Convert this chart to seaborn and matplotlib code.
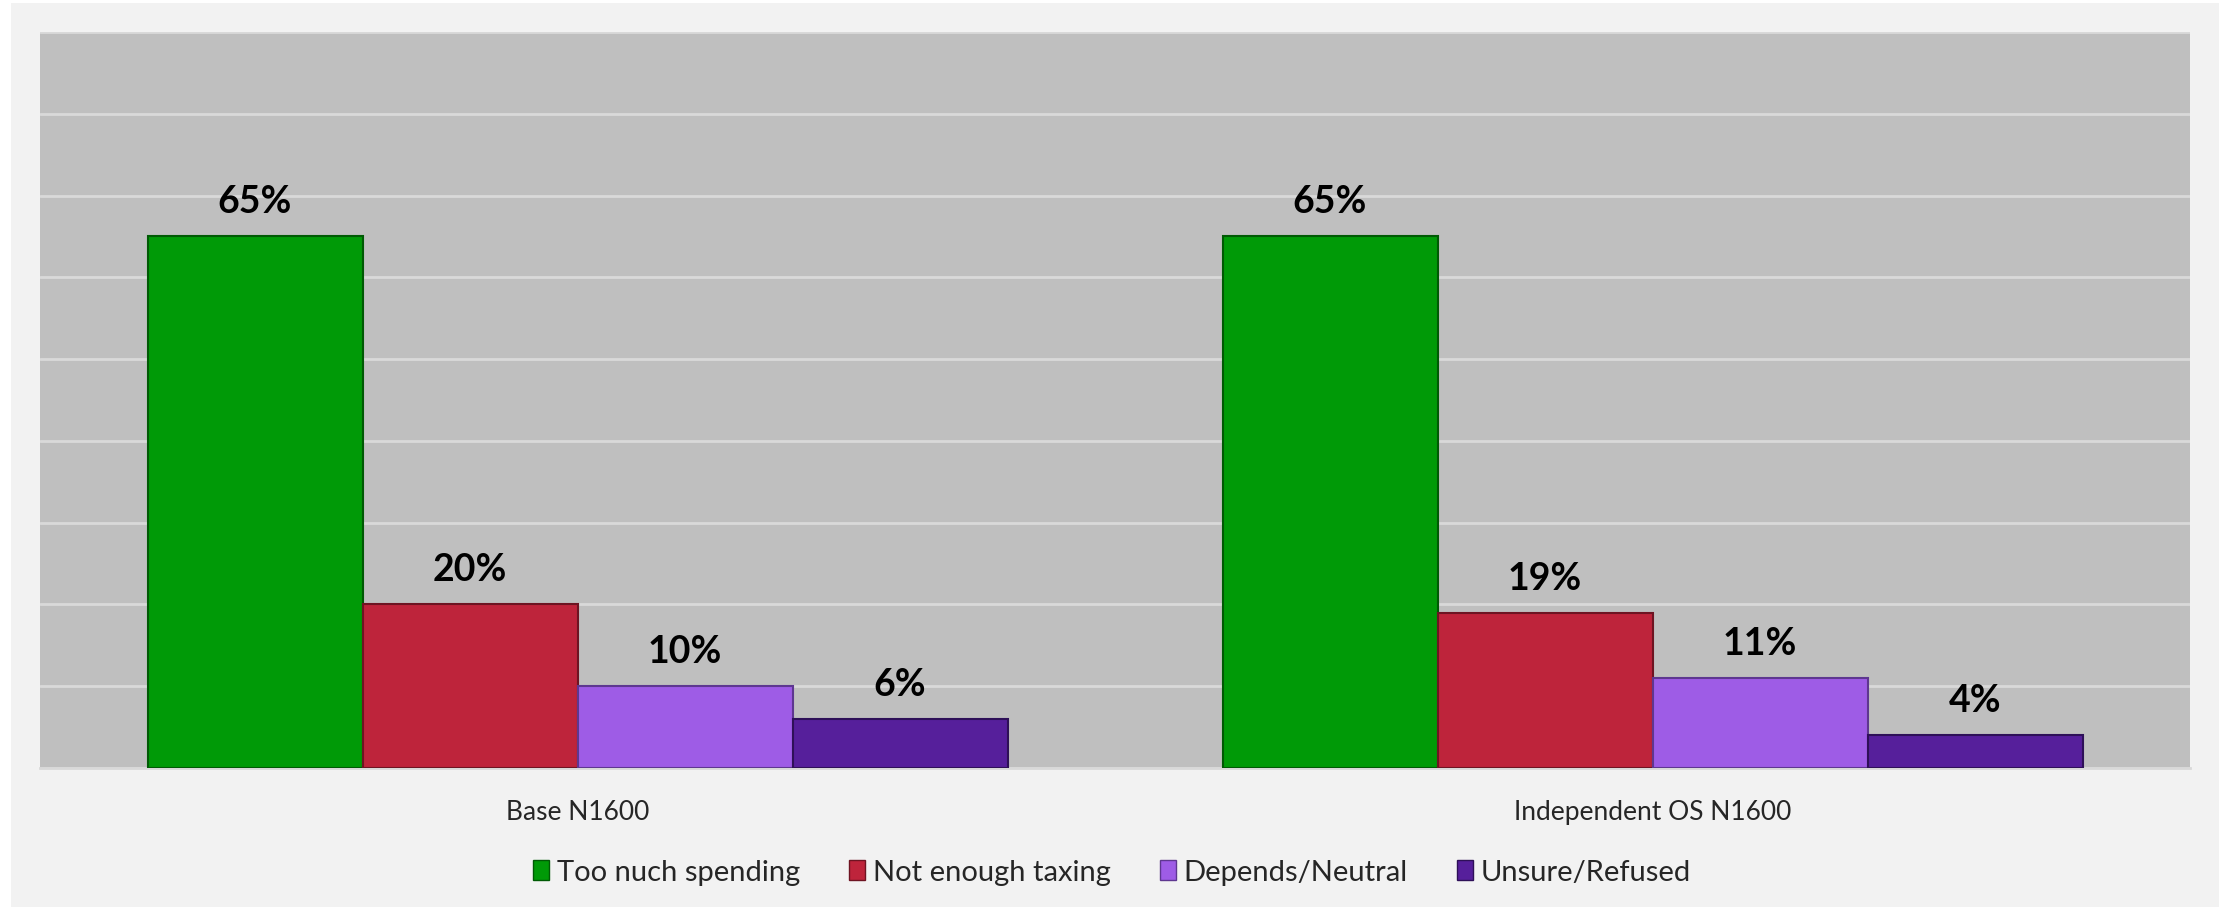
import numpy as np
import pandas as pd
import matplotlib
matplotlib.use("Agg")
import matplotlib.pyplot as plt
import matplotlib.patches as mpatches
import seaborn as sns

# 数据
groups = ["Base N1600", "Independent OS N1600"]
answers = ["Too nuch spending", "Not enough taxing", "Depends/Neutral", "Unsure/Refused"]
base_vals = [0.65, 0.20, 0.10, 0.06]
indep_vals = [0.65, 0.19, 0.11, 0.04]
colors = ["#009a07", "#be243b", "#9e5ce6", "#561f9b"]
edges = ["#005a04", "#6e1422", "#5e3790", "#2e1058"]

df = pd.DataFrame({
    "group": np.repeat(groups, len(answers)),
    "answer": answers * len(groups),
    "value": base_vals + indep_vals,
})

sns.set_theme(style="white")
plt.rcParams["font.family"] = ["Lato", "DejaVu Sans"]

fig = plt.figure(figsize=(22.24, 9.12), dpi=100, facecolor="white")
fig.patches.append(mpatches.Rectangle((11 / 2224, 4 / 912), 2208 / 2224, 904 / 912,
                                      transform=fig.transFigure, facecolor="#f2f2f2",
                                      edgecolor="none", zorder=-10))
ax = fig.add_axes([40 / 2224, 1 - 769 / 912, 2150 / 2224, 736 / 912])
ax.set_facecolor("#bfbfbf")

sns.barplot(data=df, x="group", y="value", hue="answer", hue_order=answers,
            palette=colors, ax=ax, width=0.8, saturation=1, legend=False, zorder=3)

for i, cont in enumerate(ax.containers):
    for p in cont.patches:
        p.set_edgecolor(edges[i])
        p.set_linewidth(1.5)
    ax.bar_label(cont, labels=[f"{v * 100:.0f}%" for v in cont.datavalues],
                 padding=13, fontsize=27, fontweight="bold", color="black")

ax.set_ylim(0, 0.9)
ax.set_yticks(np.arange(0, 0.91, 0.1))
ax.yaxis.grid(True, color="#d9d9d9", linewidth=2, zorder=0)
ax.set_axisbelow(True)
ax.tick_params(axis="y", left=False, labelleft=False)
ax.tick_params(axis="x", length=0, pad=22, labelsize=19)
ax.set_xlabel("")
ax.set_ylabel("")
for s in ax.spines.values():
    s.set_visible(False)
ax.spines["bottom"].set_visible(True)
ax.spines["bottom"].set_color("#d9d9d9")
ax.spines["bottom"].set_linewidth(2)

handles = [mpatches.Patch(facecolor=c, edgecolor=e, label=a) for c, e, a in zip(colors, edges, answers)]
fig.legend(handles=handles, loc="center", bbox_to_anchor=(0.5, 1 - 873 / 912), ncol=4,
           frameon=False, fontsize=21, handlelength=0.55, handleheight=0.7,
           handletextpad=0.25, columnspacing=1.7)

fig.savefig("out.png", dpi=100, facecolor=fig.get_facecolor())
